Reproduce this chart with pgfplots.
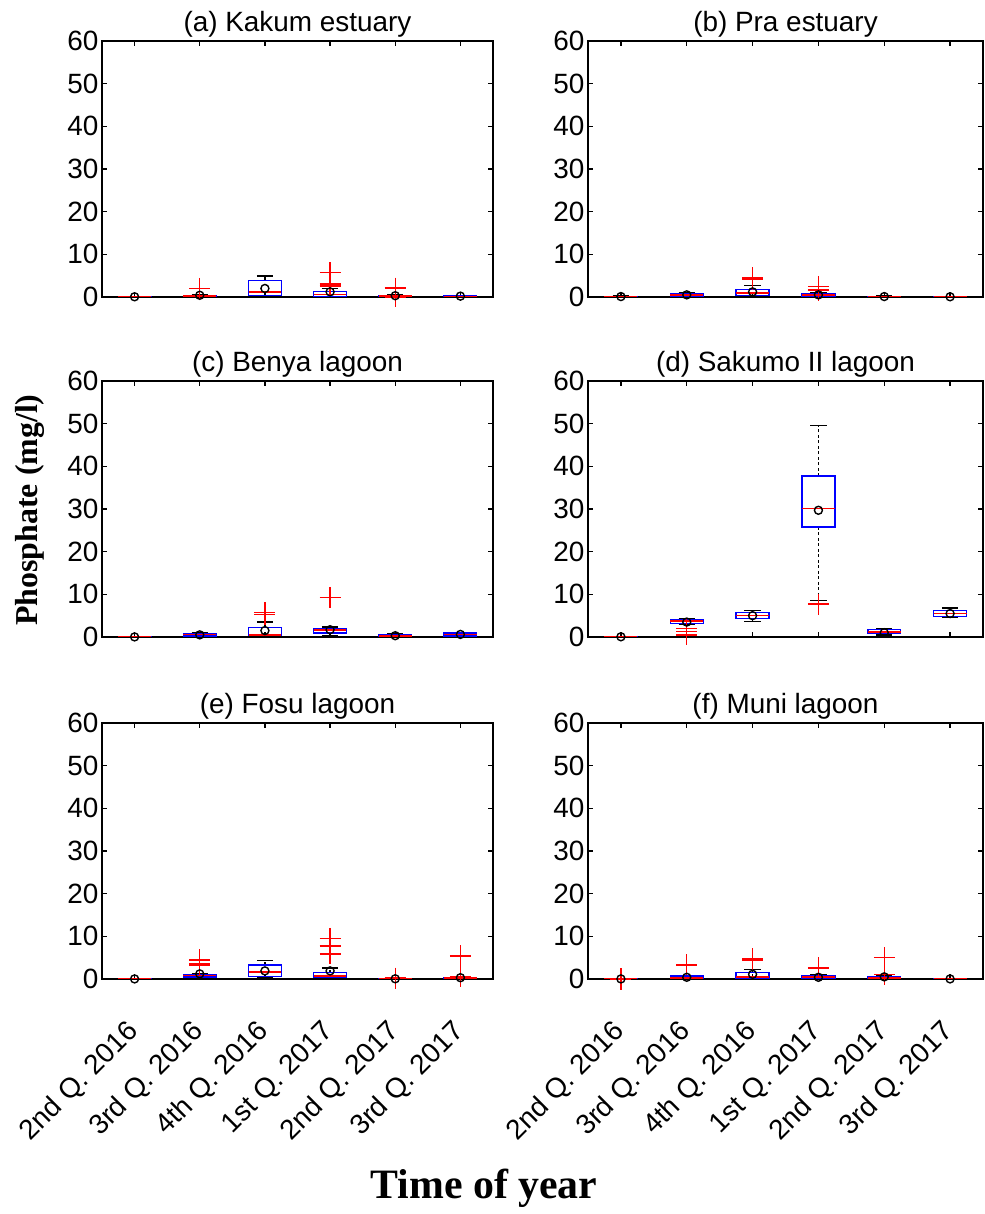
\documentclass[border=0pt]{standalone}
\usepackage{pgfplots}
\pgfplotsset{compat=1.18}
\usepgfplotslibrary{statistics}
\usepackage{fontspec}
\setmainfont{Liberation Sans}
\newfontfamily\tnr{Liberation Serif}
\newcommand{\lab}{\fontsize{28}{32}\selectfont}

\pgfplotsset{
  boxplot/draw direction=y,
  boxplot/box extend=0.5,
  boxplot/whisker extend=0.25,
  boxplot/every box/.style={draw=blue, line width=1.4bp},
  boxplot/every median/.style={draw=red, line width=1.6bp},
  boxplot/draw/lower whisker/.code={%
    \draw[black, line width=1.3bp, dash pattern=on 3bp off 2.5bp]
      (boxplot box cs:\pgfplotsboxplotvalue{lower quartile},0.5) --
      (boxplot box cs:\pgfplotsboxplotvalue{lower whisker},0.5);
    \draw[black, line width=1.4bp]
      (boxplot whisker cs:\pgfplotsboxplotvalue{lower whisker},0) --
      (boxplot whisker cs:\pgfplotsboxplotvalue{lower whisker},1);
  },
  boxplot/draw/upper whisker/.code={%
    \draw[black, line width=1.3bp, dash pattern=on 3bp off 2.5bp]
      (boxplot box cs:\pgfplotsboxplotvalue{upper quartile},0.5) --
      (boxplot box cs:\pgfplotsboxplotvalue{upper whisker},0.5);
    \draw[black, line width=1.4bp]
      (boxplot whisker cs:\pgfplotsboxplotvalue{upper whisker},0) --
      (boxplot whisker cs:\pgfplotsboxplotvalue{upper whisker},1);
  },
  panel/.style={
    scale only axis, height=256bp, anchor=south west,
    xmin=0.5, xmax=6.5, ymin=0, ymax=60,
    xtick={1,2,3,4,5,6}, ytick={0,10,20,30,40,50,60},
    xticklabels={},
    tick align=inside, major tick length=5bp,
    axis line style={line width=1.3bp, black},
    major tick style={line width=1.3bp, black},
    tick label style={font=\lab},
    /pgf/number format/assume math mode=true,
    title style={font=\lab, yshift=-6bp},
  },
  bottom/.style={
    xticklabels={2nd Q. 2016,3rd Q. 2016,4th Q. 2016,1st Q. 2017,2nd Q. 2017,3rd Q. 2017},
    xticklabel style={yshift=-46bp, xshift=2bp, rotate=45, anchor=east},
  },
  outl/.style={red, mark=+, mark size=10.5bp, mark options={red, line width=1.4bp}},
  meanm/.style={only marks, mark=o, mark size=4bp, mark options={black, line width=1.4bp}},
}

\newcommand{\BX}[6]{\addplot[boxplot prepared={draw position=#1, lower whisker=#2, lower quartile=#3, median=#4, upper quartile=#5, upper whisker=#6}] coordinates {};}
\newcommand{\BXO}[7]{\addplot[outl, boxplot prepared={draw position=#1, lower whisker=#2, lower quartile=#3, median=#4, upper quartile=#5, upper whisker=#6}] table[row sep=\\, y index=0] {y\\ #7};}

\begin{document}
\begin{tikzpicture}
\useasboundingbox (0,0) rectangle (985bp,1214bp);

% (a)
\begin{axis}[panel, at={(102bp,917bp)}, width=391bp, title={(a) Kakum estuary}]
\BX{1}{0}{0}{0.05}{0.1}{0.1}
\BXO{2}{0}{0.05}{0.3}{0.4}{0.6}{2.0\\}
\BX{3}{0}{0.4}{1.2}{3.9}{4.9}
\BXO{4}{0}{0.1}{0.6}{1.3}{2.0}{5.7\\ 3.0\\ 2.6\\}
\BXO{5}{0}{0}{0.2}{0.3}{0.5}{2.1\\ 0.0\\}
\BX{6}{0}{0.05}{0.15}{0.25}{0.35}
\addplot[meanm] coordinates {(1,0.05) (2,0.4) (3,2.0) (4,1.2) (5,0.3) (6,0.2)};
\end{axis}

% (b)
\begin{axis}[panel, at={(588bp,917bp)}, width=395bp, title={(b) Pra estuary}]
\BX{1}{0}{0.05}{0.1}{0.15}{0.2}
\BX{2}{0.05}{0.2}{0.5}{0.8}{0.95}
\BXO{3}{0.1}{0.3}{0.9}{1.7}{2.7}{4.5\\ 4.2\\}
\BXO{4}{0}{0.1}{0.4}{0.7}{1.0}{2.5\\ 1.8\\ 1.5\\}
\BX{5}{0}{0.05}{0.1}{0.15}{0.2}
\BX{6}{0}{0.02}{0.05}{0.1}{0.15}
\addplot[meanm] coordinates {(1,0.1) (2,0.5) (3,1.2) (4,0.5) (5,0.1) (6,0.05)};
\end{axis}

% (c)
\begin{axis}[panel, at={(102bp,577bp)}, width=391bp, title={(c) Benya lagoon}]
\BX{1}{0}{0}{0.02}{0.05}{0.05}
\BX{2}{0.1}{0.2}{0.6}{0.8}{0.9}
\BXO{3}{0}{0.3}{0.5}{2.2}{3.5}{5.7\\ 5.3\\}
\BXO{4}{0.3}{0.95}{1.6}{1.9}{2.3}{9.3\\}
\BX{5}{0}{0.1}{0.3}{0.6}{0.7}
\BX{6}{0.1}{0.2}{0.6}{0.9}{1.0}
\addplot[meanm] coordinates {(1,0.02) (2,0.5) (3,1.5) (4,1.7) (5,0.3) (6,0.6)};
\end{axis}

% (d)
\begin{axis}[panel, at={(588bp,577bp)}, width=395bp, title={(d) Sakumo II lagoon}]
\BX{1}{0}{0}{0.05}{0.1}{0.1}
\BXO{2}{2.9}{3.15}{3.7}{4.1}{4.3}{2.0\\ 1.3\\ 0.5\\}
\BX{3}{3.7}{4.3}{5.0}{5.7}{6.2}
\BXO{4}{8.6}{25.8}{30.1}{37.7}{49.5}{7.7\\}
\BX{5}{0.5}{0.8}{1.2}{1.7}{2.0}
\BX{6}{4.5}{4.8}{5.5}{6.2}{6.8}
\addplot[meanm] coordinates {(1,0.05) (2,3.5) (3,5.0) (4,29.7) (5,1.0) (6,5.5)};
\end{axis}

% (e)
\begin{axis}[panel, bottom, at={(102bp,235bp)}, width=391bp, title={(e) Fosu lagoon}]
\BX{1}{0}{0}{0.02}{0.05}{0.05}
\BXO{2}{0.2}{0.5}{0.85}{1.0}{1.2}{4.5\\ 3.5\\ 3.2\\}
\BX{3}{0.2}{0.6}{1.6}{3.3}{4.3}
\BXO{4}{0.1}{0.3}{0.75}{1.5}{2.6}{9.5\\ 7.7\\ 5.9\\}
\BXO{5}{0}{0}{0.02}{0.05}{0.05}{0.2\\}
\BXO{6}{0}{0.05}{0.2}{0.3}{0.4}{5.4\\ 0.5\\}
\addplot[meanm] coordinates {(1,0.02) (2,1.2) (3,1.9) (4,1.9) (5,0.05) (6,0.3)};
\end{axis}

% (f)
\begin{axis}[panel, bottom, at={(588bp,235bp)}, width=395bp, title={(f) Muni lagoon}]
\BXO{1}{0}{0}{0.02}{0.05}{0.05}{0.0\\}
\BXO{2}{0}{0.1}{0.3}{0.7}{0.8}{3.3\\}
\BXO{3}{0.1}{0.2}{0.5}{1.5}{2.2}{4.8\\ 4.5\\}
\BXO{4}{0}{0.1}{0.4}{0.85}{1.1}{2.6\\}
\BXO{5}{0}{0.1}{0.3}{0.5}{0.8}{5.0\\ 1.0\\}
\BX{6}{0}{0}{0.02}{0.05}{0.05}
\addplot[meanm] coordinates {(1,0.02) (2,0.4) (3,1.1) (4,0.4) (5,0.5) (6,0.02)};
\end{axis}

\node[font=\tnr\bfseries\fontsize{32}{36}\selectfont, rotate=90] at (30bp,704bp) {Phosphate (mg/l)};
\node[font=\tnr\bfseries\fontsize{42}{46}\selectfont] at (484bp,26bp) {Time of year};
\end{tikzpicture}
\end{document}
